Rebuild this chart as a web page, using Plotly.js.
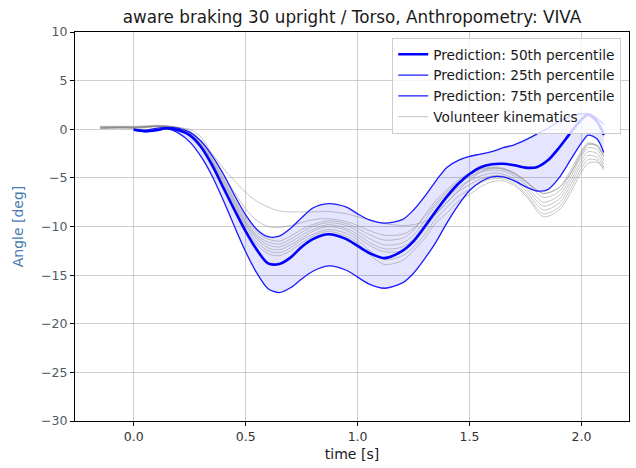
<!DOCTYPE html>
<html>
<head>
<meta charset="utf-8">
<script src="https://cdn.plot.ly/plotly-3.0.1.min.js"></script>
<style>html,body{margin:0;padding:0;background:#fff;}#chart{width:636px;height:468px;}</style>
</head>
<body>
<div id="chart"></div>
<script>
// ---- data ----
const chartTitle = 'aware braking 30 upright / Torso, Anthropometry: VIVA';
const xTitle = 'time [s]';
const yTitle = 'Angle [deg]';
const xTicks = [0, 0.5, 1.0, 1.5, 2.0];
const xTickText = ['0.0', '0.5', '1.0', '1.5', '2.0'];
const yTicks = [-30, -25, -20, -15, -10, -5, 0, 5, 10];
const yTickText = ['\u221230', '\u221225', '\u221220', '\u221215', '\u221210', '\u22125', '0', '5', '10'];

// prediction time base
const tPred = [0.0, 0.05, 0.1, 0.15, 0.2, 0.25, 0.3, 0.35, 0.4, 0.45, 0.5, 0.55, 0.6, 0.65, 0.7, 0.75, 0.8, 0.87, 0.95, 1.0,
  1.05, 1.12, 1.2, 1.25, 1.3, 1.35, 1.4, 1.45, 1.5, 1.55, 1.6, 1.65, 1.7, 1.75, 1.8, 1.85, 1.9, 1.95, 2.0, 2.03, 2.07, 2.1];
const pred50 = [-0.05, -0.2, -0.1, 0.1, -0.1, -0.6, -1.8, -3.7, -6.0, -8.3, -10.5, -12.4, -13.8, -13.85, -13.2, -12.1, -11.3, -10.8, -11.3, -12.0,
  -12.7, -13.25, -12.5, -11.5, -10.0, -8.4, -6.9, -5.6, -4.6, -3.9, -3.6, -3.55, -3.7, -3.95, -3.9, -3.2, -1.9, -0.4, 1.0, 1.5, 0.8, -0.6];
const pred25 = [-0.1, -0.25, -0.1, 0.05, -0.4, -1.3, -2.8, -4.8, -7.3, -10.0, -12.6, -14.8, -16.4, -16.8, -16.3, -15.4, -14.6, -14.05, -14.5, -15.2,
  -15.9, -16.35, -15.8, -14.8, -13.3, -11.6, -9.6, -7.8, -6.3, -5.4, -4.9, -4.9, -5.3, -5.9, -6.35, -6.2, -5.0, -3.2, -1.4, -0.6, -1.0, -2.4];
const pred75 = [0.0, -0.1, 0.1, 0.2, 0.1, -0.3, -1.2, -2.7, -4.6, -6.8, -8.8, -10.3, -11.05, -11.0, -10.2, -9.1, -8.1, -7.65, -8.0, -8.7,
  -9.3, -9.65, -9.3, -8.3, -6.9, -5.3, -3.9, -3.2, -2.8, -2.55, -2.3, -1.9, -1.6, -1.1, -0.5, 0.1, 0.8, 1.3, 1.6, 1.6, 1.1, 0.5];

// volunteer time base
const tVol = [-0.15, -0.1, -0.05, 0.0, 0.05, 0.1, 0.15, 0.2, 0.25, 0.3, 0.35, 0.4, 0.45, 0.5, 0.55, 0.6, 0.65, 0.7, 0.75, 0.8, 0.87, 0.95,
  1.0, 1.05, 1.12, 1.2, 1.25, 1.3, 1.35, 1.4, 1.45, 1.5, 1.55, 1.6, 1.65, 1.7, 1.75, 1.83, 1.9, 1.95, 2.0, 2.03, 2.07, 2.1];
const vol1 = [0.1, 0.12, 0.15, 0.1, 0.2, 0.3, 0.25, 0.15, 0.0, -0.8, -2.5, -4.0, -5.3, -6.5, -7.4, -8.0, -8.4, -8.5, -8.5, -8.5, -8.45, -8.7,
  -9.0, -9.3, -9.7, -9.9, -9.8, -9.5, -8.7, -7.5, -6.3, -5.2, -4.4, -4.0, -4.1, -4.5, -5.3, -6.6, -6.0, -4.6, -2.6, -1.6, -1.6, -2.6];
const vol2 = [0.2, 0.2, 0.22, 0.2, 0.25, 0.35, 0.3, 0.2, -0.2, -1.2, -2.8, -4.6, -6.5, -8.2, -9.4, -10.0, -10.1, -9.9, -9.6, -9.3, -9.2, -9.5,
  -9.9, -10.4, -10.9, -10.8, -10.2, -9.0, -7.6, -6.4, -5.4, -4.7, -4.2, -4.0, -4.1, -4.6, -5.4, -6.6, -6.0, -4.3, -2.2, -1.4, -1.7, -2.8];
const vol3 = [0.15, 0.2, 0.25, 0.2, 0.25, 0.3, 0.3, 0.1, -0.4, -1.4, -3.0, -5.0, -7.2, -9.1, -10.6, -11.3, -11.5, -11.0, -10.3, -9.8, -9.4, -9.7,
  -10.2, -10.8, -11.4, -11.2, -10.4, -8.8, -7.3, -6.2, -5.2, -4.5, -4.1, -3.9, -4.0, -4.5, -5.3, -7.0, -6.4, -4.6, -2.4, -1.5, -1.8, -2.8];
const vol4 = [0.2, 0.25, 0.2, 0.25, 0.3, 0.35, 0.3, 0.1, -0.5, -1.5, -3.2, -5.2, -7.4, -9.4, -10.9, -11.6, -11.8, -11.3, -10.6, -10.0, -9.6, -9.9,
  -10.5, -11.2, -11.9, -11.7, -10.9, -9.4, -7.8, -6.6, -5.6, -4.9, -4.4, -4.2, -4.3, -4.8, -5.7, -7.5, -6.8, -5.0, -2.8, -1.9, -2.1, -3.2];
const vol5 = [0.3, 0.3, 0.3, 0.3, 0.35, 0.4, 0.35, 0.15, -0.5, -1.6, -3.3, -5.4, -7.6, -9.6, -11.1, -11.9, -12.1, -11.6, -10.9, -10.3, -9.8, -10.2,
  -10.8, -11.6, -12.3, -12.1, -11.3, -9.9, -8.3, -7.1, -6.0, -5.3, -4.8, -4.5, -4.6, -5.1, -6.0, -7.9, -7.2, -5.4, -3.2, -2.3, -2.5, -3.6];
const vol6 = [0.05, 0.1, 0.1, 0.1, 0.15, 0.25, 0.25, 0.05, -0.6, -1.7, -3.4, -5.6, -7.8, -9.8, -11.3, -12.2, -12.4, -11.9, -11.2, -10.5, -10.0, -10.4,
  -11.1, -11.9, -12.6, -12.5, -11.7, -10.3, -8.7, -7.5, -6.4, -5.7, -5.1, -4.8, -4.8, -5.3, -6.3, -8.3, -7.6, -5.8, -3.6, -2.7, -2.9, -3.9];
const vol7 = [0.25, 0.2, 0.2, 0.15, 0.2, 0.3, 0.3, 0.1, -0.6, -1.8, -3.5, -5.8, -8.0, -10.0, -11.6, -12.5, -12.7, -12.2, -11.4, -10.8, -10.3, -10.7,
  -11.4, -12.4, -13.4, -13.0, -12.1, -10.8, -9.2, -8.0, -6.9, -6.2, -5.5, -5.1, -5.1, -5.6, -6.6, -8.7, -8.0, -6.2, -4.0, -3.1, -3.2, -4.2];
const vol8 = [0.1, 0.15, 0.2, 0.2, 0.25, 0.3, 0.25, 0.05, -0.7, -1.9, -3.7, -6.0, -8.3, -10.3, -11.9, -12.8, -13.0, -12.5, -11.7, -11.0, -10.5, -11.0,
  -11.7, -12.8, -13.9, -13.5, -12.5, -11.2, -9.6, -8.6, -7.4, -6.7, -5.9, -5.4, -5.3, -5.8, -6.8, -9.0, -8.3, -6.6, -4.4, -3.5, -3.4, -4.0];
const volunteers = [vol1, vol2, vol3, vol4, vol5, vol6, vol7, vol8];

const seriesNames = ['Prediction: 50th percentile', 'Prediction: 25th percentile', 'Prediction: 75th percentile', 'Volunteer kinematics'];

// ---- traces ----
const blue = '#0000ff';
const thinBlue = '#1a1aff';
const spl = {shape: 'spline', smoothing: 0.8};
const traces = [];
// shaded band (no legend)
traces.push({x: tPred, y: pred25, type: 'scatter', mode: 'lines', showlegend: false, hoverinfo: 'skip',
  line: Object.assign({color: 'rgba(0,0,0,0)', width: 0}, spl)});
traces.push({x: tPred, y: pred75, type: 'scatter', mode: 'lines', showlegend: false, hoverinfo: 'skip',
  fill: 'tonexty', fillcolor: 'rgba(0,0,255,0.10)',
  line: Object.assign({color: 'rgba(0,0,0,0)', width: 0}, spl)});
// volunteers
volunteers.forEach((v, i) => {
  traces.push({x: tVol, y: v, type: 'scatter', mode: 'lines', name: seriesNames[3], legendrank: 4,
    legendgroup: 'vol', showlegend: i === 0,
    line: Object.assign({color: 'rgba(128,128,128,0.5)', width: 0.9}, spl)});
});
// percentiles
traces.push({x: tPred, y: pred25, type: 'scatter', mode: 'lines', name: seriesNames[1], legendrank: 2,
  line: Object.assign({color: thinBlue, width: 1.3}, spl)});
traces.push({x: tPred, y: pred75, type: 'scatter', mode: 'lines', name: seriesNames[2], legendrank: 3,
  line: Object.assign({color: thinBlue, width: 1.3}, spl)});
traces.push({x: tPred, y: pred50, type: 'scatter', mode: 'lines', name: seriesNames[0], legendrank: 1,
  line: Object.assign({color: blue, width: 2.6}, spl)});

const axisCommon = {
  showgrid: true, gridcolor: '#c0c0c0', gridwidth: 0.8, zeroline: false,
  showline: true, mirror: true, linecolor: '#000', linewidth: 1,
  ticks: 'outside', ticklen: 4, tickwidth: 1, tickcolor: '#000'
};

const layout = {
  width: 636, height: 468,
  margin: {l: 75, r: 7, t: 32, b: 47},
  paper_bgcolor: '#fff', plot_bgcolor: '#fff',
  font: {family: 'DejaVu Sans', size: 12, color: '#262626'},
  title: {text: chartTitle, font: {family: 'DejaVu Sans', size: 16.8, color: '#1a1a1a'},
    xref: 'paper', x: 0.5, xanchor: 'center', yref: 'container', y: 1 - 17 / 468, yanchor: 'middle'},
  xaxis: Object.assign({}, axisCommon, {
    range: [-0.2625, 2.2125], tickmode: 'array', tickvals: xTicks, ticktext: xTickText,
    tickfont: {size: 12.5, color: '#333'},
    title: {text: xTitle, font: {size: 14, color: '#1a1a1a'}, standoff: 6}
  }),
  yaxis: Object.assign({}, axisCommon, {
    range: [-30, 10], tickmode: 'array', tickvals: yTicks, ticktext: yTickText,
    tickfont: {size: 12.5, color: '#505a64'},
    title: {text: yTitle, font: {size: 14, color: '#4a7ab0'}, standoff: 14}
  }),
  legend: {
    x: 0.986, xanchor: 'right', y: 0.985, yanchor: 'top',
    bgcolor: 'rgba(255,255,255,0.8)', bordercolor: '#cccccc', borderwidth: 1,
    font: {size: 13.7, color: '#1a1a1a'}, tracegroupgap: 0, itemwidth: 30
  },
  showlegend: true
};

Plotly.newPlot('chart', traces, layout, {displayModeBar: false, staticPlot: true});
</script>
</body>
</html>
